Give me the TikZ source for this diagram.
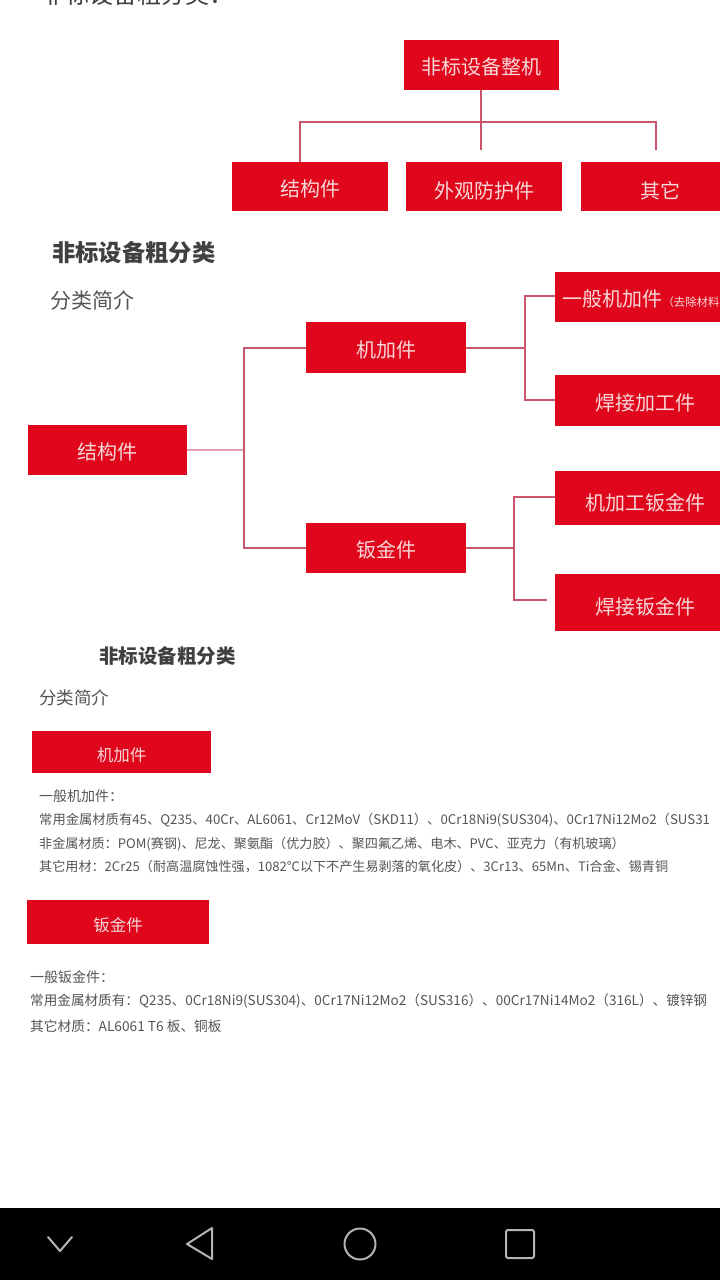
\documentclass[tikz,border=0pt]{standalone}
\usepackage{fontspec}
\setmainfont{Noto Sans CJK SC}
\definecolor{boxred}{HTML}{E0061C}
\definecolor{boxtext}{HTML}{F8D8D8}
\definecolor{linkred}{HTML}{C9566C}
\definecolor{headgray}{HTML}{404040}
\definecolor{bodygray}{HTML}{555555}
\definecolor{navgray}{HTML}{B4B4B4}
\tikzset{
  redbox/.style={fill=boxred,draw=none,text=boxtext,inner sep=0pt,anchor=center,text depth=3pt,font=\fontsize{20}{24}\selectfont},
  dropa/.style={text height=22pt},
  dropb/.style={text height=24pt},
  dropc/.style={text height=26pt},
  dropd/.style={text height=28pt},
  dropsmall/.style={text height=21.6pt},
  link/.style={draw=linkred,line width=1.8pt},
  thinlink/.style={draw=linkred!55,line width=1.4pt},
  heading/.style={anchor=west,inner sep=0pt,text=headgray,font=\fontsize{23.3}{27}\bfseries\selectfont},
  sub/.style={anchor=west,inner sep=0pt,text=bodygray,font=\fontsize{21}{25}\selectfont},
  body/.style={anchor=west,inner sep=0pt,text=bodygray,font=\fontsize{13.1}{15}\selectfont},
  navicon/.style={draw=navgray,line width=2pt,line join=round,line cap=round}
}
\begin{document}
\begin{tikzpicture}[x=1pt,y=-1pt]
\useasboundingbox (0,0) rectangle (720,1280);
\clip (0,0) rectangle (720,1280);
\fill[white] (0,0) rectangle (720,1280);

\node[heading,font=\fontsize{24}{28}\selectfont] (toptitle) at (41,-6) {非标设备粗分类：};

% top tree
\node[redbox,dropa,minimum width=155pt,minimum height=50pt] (root) at (481.5,65) {非标设备整机};
\node[redbox,dropa,minimum width=156pt,minimum height=49pt] (c1) at (310,186.5) {结构件};
\node[redbox,dropc,minimum width=156pt,minimum height=49pt] (c2) at (484,186.5) {外观防护件};
\node[redbox,dropc,minimum width=158pt,minimum height=49pt] (c3) at (660,186.5) {其它};
\coordinate (t1) at (300,122);
\coordinate (t2) at (656,122);
\coordinate (t3) at (481,150);
\coordinate (t4) at (656,150);
\draw[link] (root.south -| t3) -- (t3);
\draw[link] (c1.north -| t1) -- (t1) -- (t2) -- (t4);

% second section
\node[heading] (h2) at (52,253) {非标设备粗分类};
\node[sub] (s2) at (50,300) {分类简介};
\node[redbox,dropa,minimum width=159pt,minimum height=50pt] (jg) at (107.5,450) {结构件};
\node[redbox,dropa,minimum width=160pt,minimum height=51pt] (jj) at (386,347.5) {机加件};
\node[redbox,dropa,minimum width=160pt,minimum height=50pt] (bj) at (386,548) {钣金件};
\node[redbox,dropa,minimum width=180pt,minimum height=50pt] (a1) at (645,297) {一般机加件{\fontsize{11.4}{13}\selectfont（去除材料}\hspace*{8pt}};
\node[redbox,dropb,minimum width=180pt,minimum height=51pt] (a2) at (645,400) {焊接加工件};
\node[redbox,dropd,minimum width=180pt,minimum height=54pt] (b1) at (645,498) {机加工钣金件};
\node[redbox,dropd,minimum width=180pt,minimum height=57pt] (b2) at (645,602) {焊接钣金件};
\coordinate (v1) at (244,450);
\coordinate (v1a) at (244,348);
\coordinate (v1b) at (244,548);
\coordinate (v2) at (525,348);
\coordinate (v2a) at (525,296);
\coordinate (v2b) at (525,400);
\coordinate (v3) at (514,548);
\coordinate (v3a) at (514,497);
\coordinate (v3b) at (514,600);
\coordinate (b2end) at (547,600);
\draw[thinlink] (jg.east) -- (v1);
\draw[link] (jj.west |- v1a) -- (v1a) -- (v1b) -- (bj.west |- v1b);
\draw[link] (jj.east |- v2) -- (v2);
\draw[link] (a1.west |- v2a) -- (v2a) -- (v2b) -- (a2.west |- v2b);
\draw[link] (bj.east |- v3) -- (v3);
\draw[link] (b1.west |- v3a) -- (v3a) -- (v3b) -- (b2end);

% third section
\node[heading,font=\fontsize{19.5}{23}\bfseries\selectfont] (h3) at (99,656) {非标设备粗分类};
\node[sub,font=\fontsize{17.5}{21}\selectfont] (s3) at (39,698) {分类简介};
\node[redbox,dropsmall,font=\fontsize{16.5}{20}\selectfont,minimum width=179pt,minimum height=42pt] (m1) at (121.5,752) {机加件};
\node[body,font=\fontsize{14}{16}\selectfont] (l1) at (39,796) {一般机加件：};
\node[body,font=\fontsize{13.3}{16}\selectfont] (l2) at (39,820) {常用金属材质有45、Q235、40Cr、AL6061、Cr12MoV（SKD11）、0Cr18Ni9(SUS304)、0Cr17Ni12Mo2（SUS31};
\node[body] (l3) at (39,844) {非金属材质：POM(赛钢)、尼龙、聚氨酯（优力胶）、聚四氟乙烯、电木、PVC、亚克力（有机玻璃）};
\node[body] (l4) at (39,867) {其它用材：2Cr25（耐高温腐蚀性强，1082℃以下不产生易剥落的氧化皮）、3Cr13、65Mn、Ti合金、锡青铜};
\node[redbox,dropsmall,font=\fontsize{16.5}{20}\selectfont,minimum width=182pt,minimum height=44pt] (m2) at (118,922) {钣金件};
\node[body,font=\fontsize{14}{16}\selectfont] (l5) at (30,977) {一般钣金件：};
\node[body,font=\fontsize{13.6}{16}\selectfont] (l6) at (30,1001) {常用金属材质有：Q235、0Cr18Ni9(SUS304)、0Cr17Ni12Mo2（SUS316）、00Cr17Ni14Mo2（316L）、镀锌钢};
\node[body,font=\fontsize{13.7}{16}\selectfont] (l7) at (30,1026) {其它材质：AL6061 T6 板、铜板};

% navigation bar
\fill[black] (0,1208) rectangle (720,1280);
\draw[navicon] (48,1237) -- (60,1251) -- (72,1237);
\draw[navicon] (212,1228) -- (187,1244) -- (212,1259) -- cycle;
\draw[navicon] (360,1244) circle (15.5);
\draw[navicon,rounded corners=2pt] (506,1230) rectangle (534,1258);
\end{tikzpicture}
\end{document}
